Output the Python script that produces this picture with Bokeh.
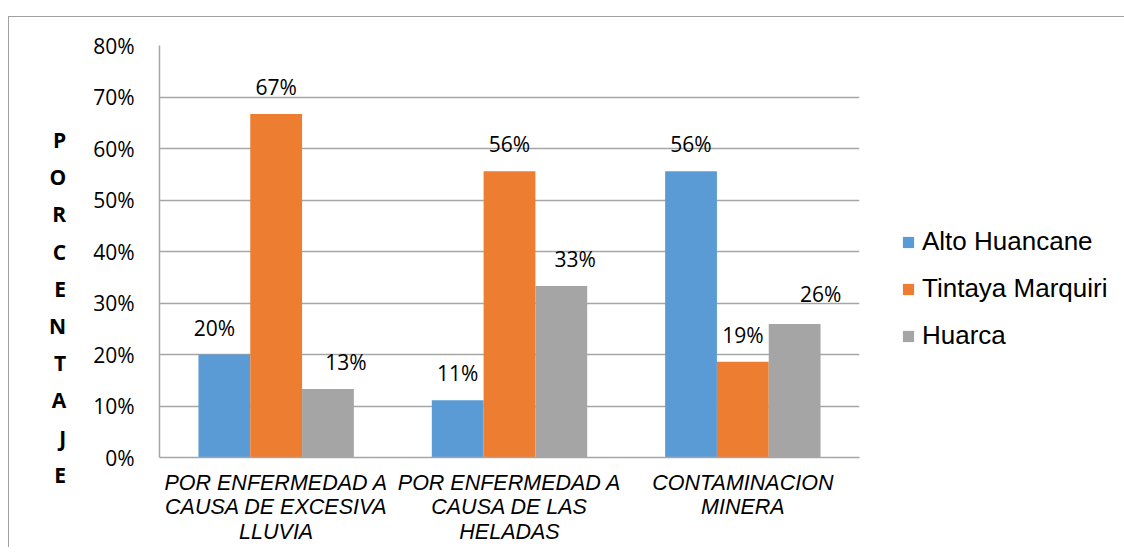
from bokeh.plotting import figure
from bokeh.models import (ColumnDataSource, FactorRange, Range1d, LabelSet, Legend, LegendItem,
                          FixedTicker, PrintfTickFormatter)
from bokeh.transform import dodge
from bokeh.core.properties import value
from bokeh.embed import file_html
from bokeh.resources import INLINE

# ---- data ----
categories = [
    "POR ENFERMEDAD A\nCAUSA DE EXCESIVA\nLLUVIA",
    "POR ENFERMEDAD A\nCAUSA DE LAS\nHELADAS",
    "CONTAMINACION\nMINERA",
]
series_names = ["Alto Huancane", "Tintaya Marquiri", "Huarca"]
alto_huancane = [20.0, 11.1, 55.6]
tintaya_marquiri = [66.7, 55.6, 18.6]
huarca = [13.3, 33.3, 25.9]
y_ticks = [0, 10, 20, 30, 40, 50, 60, 70, 80]
y_title = "PORCENTAJE"

# ---- style ----
colors = ["#5B9BD5", "#ED7D31", "#A5A5A5"]
offsets = [-0.222, 0.0, 0.222]
label_dx = [[-10, 0, 0], [0, 0, 0], [18, 14, 26]]   # manual label nudges per series
label_dy = [[19, 19, 19], [19, 19, 19], [19, 19, 22]]
grid_col = "#A6A6A6"
num_font = "Open Sans"
cat_font = "Liberation Sans"

p = figure(
    x_range=FactorRange(factors=categories, range_padding=0),
    y_range=Range1d(0, 80),
    frame_width=700, frame_height=412,
    min_border_left=150, min_border_top=28, min_border_right=255, min_border_bottom=90,
    output_backend="svg", toolbar_location=None,
)
p.margin = (16, 0, 0, 8)
p.styles = {"border-top": "1px solid #A0A0A0", "border-left": "1px solid #A0A0A0"}

series_values = [alto_huancane, tintaya_marquiri, huarca]
renderers = []
for i, (name, vals) in enumerate(zip(series_names, series_values)):
    src = ColumnDataSource(dict(
        cat=categories, val=vals,
        lbl=[f"{int(v + 0.5)}%" for v in vals],
        dx=label_dx[i], dy=label_dy[i],
    ))
    r = p.vbar(x=dodge("cat", offsets[i], range=p.x_range), top="val", width=0.222,
               source=src, fill_color=colors[i], line_color=None)
    renderers.append(r)
    p.add_layout(LabelSet(x=dodge("cat", offsets[i], range=p.x_range), y="val", text="lbl",
                          source=src, x_offset="dx", y_offset="dy",
                          text_align="center", text_baseline="alphabetic",
                          text_font=value(num_font), text_font_size="21px",
                          text_color="#000000"))

legend = Legend(
    items=[LegendItem(label=n, renderers=[r]) for n, r in zip(series_names, renderers)],
    location=(42, 106), orientation="vertical",
    border_line_color=None, background_fill_alpha=0, padding=0, margin=0,
    spacing=16, glyph_width=14, glyph_height=14, label_standoff=7,
    label_text_font=cat_font, label_text_font_size="26px", label_text_color="#000000",
)
p.add_layout(legend, "right")

# axes
p.yaxis.ticker = FixedTicker(ticks=y_ticks)
p.yaxis.formatter = PrintfTickFormatter(format="%d%%")
p.yaxis.major_label_text_font = num_font
p.yaxis.major_label_text_font_size = "21px"
p.yaxis.major_label_text_color = "#000000"
p.yaxis.major_label_standoff = 25
p.yaxis.axis_label = "\n\n\n" + "\n".join(list(y_title))
p.yaxis.axis_label_orientation = "horizontal"
p.yaxis.axis_label_text_font = num_font
p.yaxis.axis_label_text_font_style = "bold"
p.yaxis.axis_label_text_font_size = "21px"
p.yaxis.axis_label_text_line_height = 1.33
p.yaxis.axis_label_text_color = "#000000"
p.yaxis.axis_label_standoff = 24

p.xaxis.major_label_text_font = cat_font
p.xaxis.major_label_text_font_style = "italic"
p.xaxis.major_label_text_font_size = "21.5px"
p.xaxis.major_label_text_line_height = 1.03
p.xaxis.major_label_text_color = "#000000"
p.xaxis.major_label_standoff = 13

for ax in (p.xaxis, p.yaxis):
    ax.axis_line_color = grid_col
    ax.axis_line_width = 1.5
    ax.major_tick_out = 0
    ax.major_tick_in = 0
    ax.minor_tick_out = 0
    ax.minor_tick_in = 0

p.xgrid.grid_line_color = None
p.ygrid.grid_line_color = grid_col
p.ygrid.grid_line_width = 1.5
p.outline_line_color = None

open("out.html", "w").write(file_html(p, INLINE))
